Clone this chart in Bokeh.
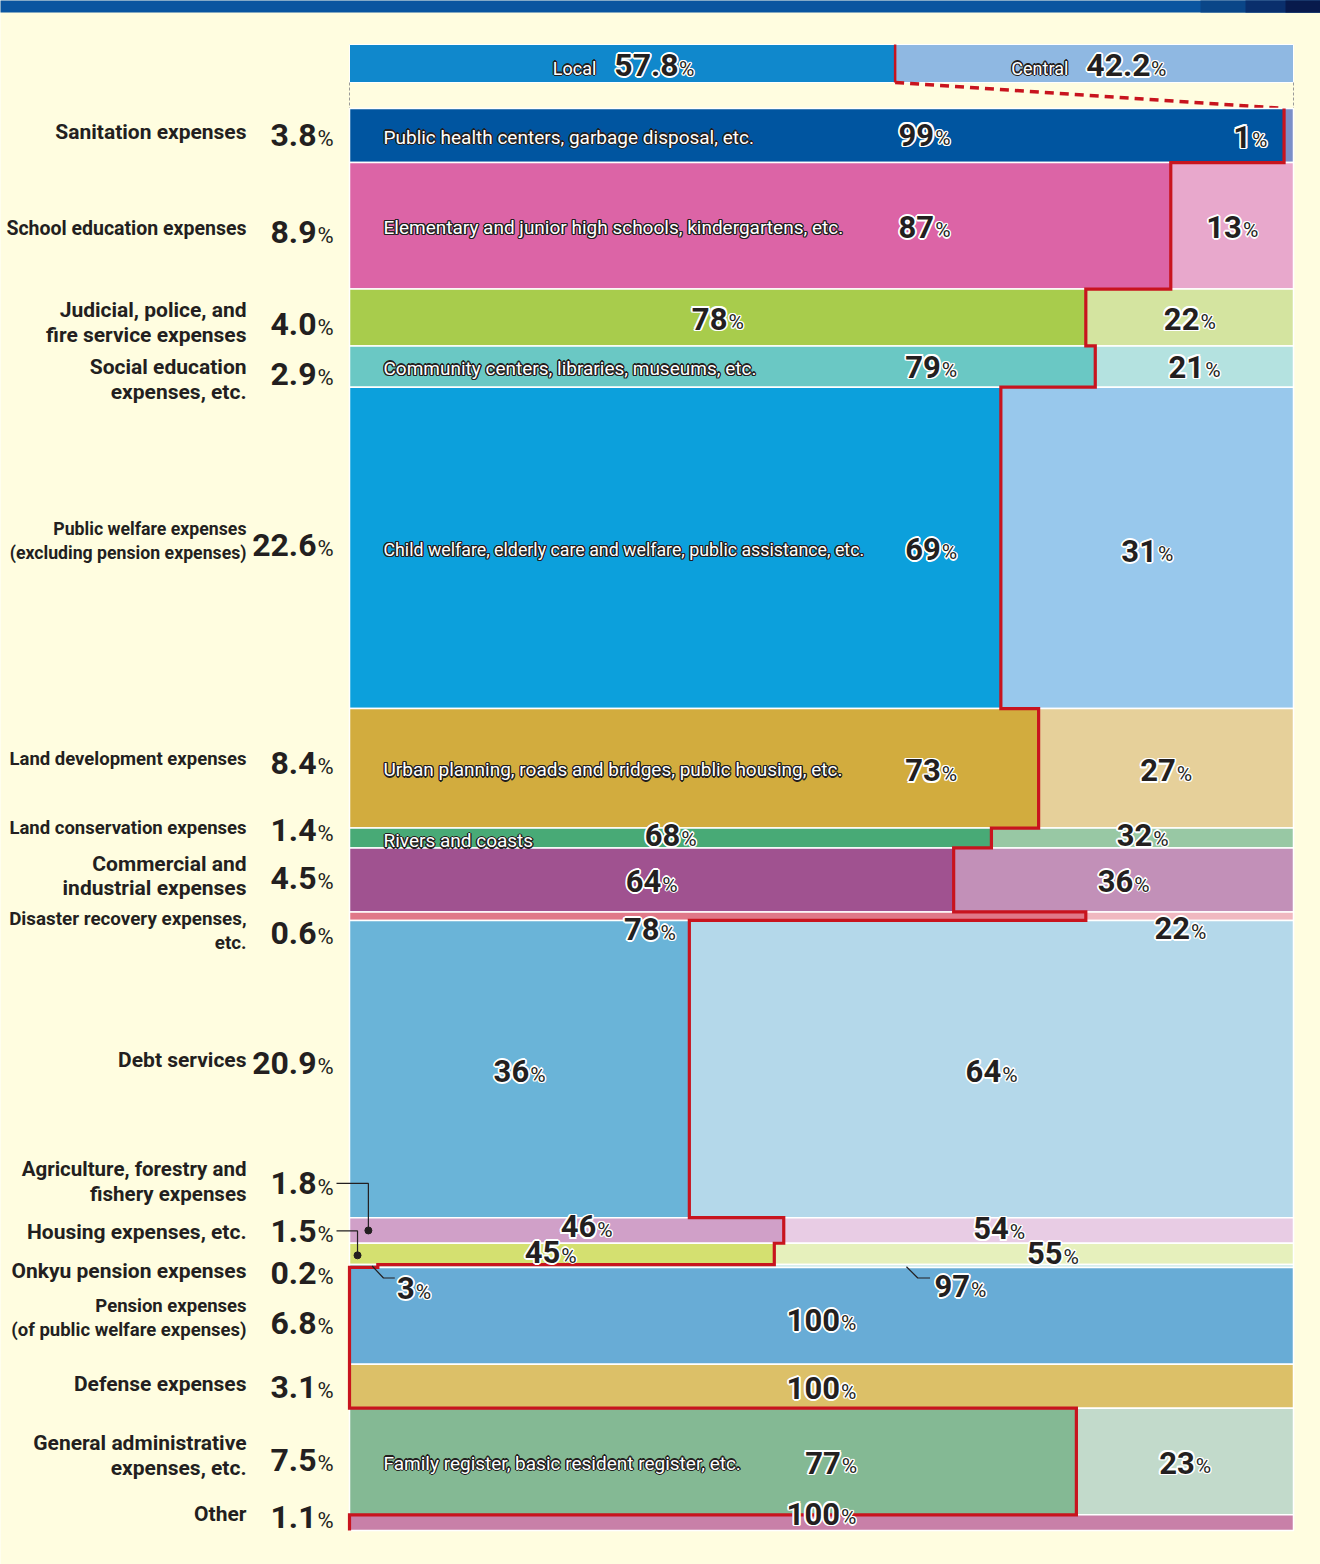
from bokeh.plotting import figure
from bokeh.models import Range1d
from bokeh.core.properties import value
from bokeh.embed import file_html
from bokeh.resources import INLINE

# ---------------- data ----------------
categories = [
    ["Sanitation expenses"],
    ["School education expenses"],
    ["Judicial, police, and", "fire service expenses"],
    ["Social education", "expenses, etc."],
    ["Public welfare expenses", "(excluding pension expenses)"],
    ["Land development expenses"],
    ["Land conservation expenses"],
    ["Commercial and", "industrial expenses"],
    ["Disaster recovery expenses,", "etc."],
    ["Debt services"],
    ["Agriculture, forestry and", "fishery expenses"],
    ["Housing expenses, etc."],
    ["Onkyu pension expenses"],
    ["Pension expenses", "(of public welfare expenses)"],
    ["Defense expenses"],
    ["General administrative", "expenses, etc."],
    ["Other"],
]
shares = [3.8, 8.9, 4.0, 2.9, 22.6, 8.4, 1.4, 4.5, 0.6, 20.9, 1.8, 1.5, 0.2, 6.8, 3.1, 7.5, 1.1]
local_pct = [99, 87, 78, 79, 69, 73, 68, 64, 78, 36, 46, 45, 3, 0, 0, 77, 0]
central_pct = [100 - v for v in local_pct]
descriptions = [
    "Public health centers, garbage disposal, etc.",
    "Elementary and junior high schools, kindergartens, etc.",
    "",
    "Community centers, libraries, museums, etc.",
    "Child welfare, elderly care and welfare, public assistance, etc.",
    "Urban planning, roads and bridges, public housing, etc.",
    "Rivers and coasts",
    "", "", "", "", "", "", "", "",
    "Family register, basic resident register, etc.",
    "",
]
total_names = ["Local", "Central"]
total_values = [57.8, 42.2]

# ---------------- styles / layout ----------------
local_colors = ["#0055a0", "#dc64a6", "#a8cc4c", "#6ac8c4", "#0ca0dc", "#d2ac3e", "#48aa76",
                "#a05290", "#e07888", "#6ab4d8", "#d0a0c8", "#d4e070", "#8ccfd2", "#68acd6",
                "#dcc068", "#84b994", "#c880a8"]
central_colors = ["#7b8fc8", "#e8a8cc", "#d4e4a0", "#b4e2e0", "#98c8ec", "#e6d09a", "#98c8a4",
                  "#c290b8", "#f0b8c0", "#b4d8ea", "#e8cce4", "#e6f0bc", "#c8e8e8", "#68acd6",
                  "#dcc068", "#c2dacb", "#c880a8"]
total_colors = ["#1088cc", "#8fb8e2"]
BG = "#fffde0"
RED = "#c8141e"
INK = "#231f20"
FONT = "Roboto"

# label layout (x in chart %, None = centre of segment; y offsets in px from row centre)
local_lbl_x = [60.9, 60.9, None, 61.6, 61.6, 61.6, None, None, 31.8, None, 25.1, 21.3, 6.8, None, None, 51, None]
local_lbl_dy = [-1, 1, 1, 0, 1, 2, -3, 1, 13, 2, -4, -2, 22, 0, 0, 1, 0]
central_lbl_x = [95.4, None, None, None, None, None, None, None, 88, None, 68.8, 74.5, 64.7, None, None, None, None]
central_lbl_dy = [1, 1, 1, 0, 3, 2, -3, 1, 12, 2, -2, -1, 20, 4, 2, 1, -9]
cat_dy = [-4, 3, 5, 13, -7, -9, -10, -4, 15, -9, -49, -22, 5, 2, -2, -6, -9]
val_dy = [-1, 6, 6, 7, -3, -5, -8, -2, 17, -6, -47, -23, 7, 7, 1, -2, -6]
cat_size = [21, 19.5, 21, 21, 17.7, 18.5, 18.5, 21, 18.8, 21, 20.5, 21, 21, 18.5, 21, 21, 21]
desc_size = [19, 19, 19, 19, 17.8, 19, 19, 19, 19, 19, 19, 19, 19, 19, 19, 19, 19]

# pixel geometry of the chart body on the page
PX_L, PX_T = 349, 108                # px of chart origin
SX, SY = 9.44, 14.22                 # px per percent
W, H = 1320, 1564

def X(px):   # page px -> data x
    return (px - PX_L) / SX

def Y(py):   # page px -> data y
    return (py - PX_T) / SY

p = figure(width=W, height=H, x_range=Range1d(X(0), X(W)), y_range=Range1d(Y(H), Y(0)),
           output_backend="svg", toolbar_location=None, x_axis_type=None, y_axis_type=None,
           min_border=0, background_fill_color=BG, border_fill_color=BG, outline_line_color=None)
p.xgrid.visible = False
p.ygrid.visible = False

# ---------------- text helpers ----------------
def ring(r):
    d = r * 0.71
    return [(r, 0), (-r, 0), (0, r), (0, -r), (d, d), (-d, d), (d, -d), (-d, -d)]

def txt(xs, ys, ts, size, color, align="left", outline=None, ow=1.6, style="bold", xo=0, yo=0):
    kw = dict(text_font=value(FONT), text_font_size=f"{size}px", text_font_style=style,
              text_align=align, text_baseline="middle")
    if outline:
        for dx, dy in ring(ow) + ring(ow * 0.5):
            p.text(x=xs, y=ys, text=ts, x_offset=xo + dx, y_offset=yo + dy, text_color=outline, **kw)
    p.text(x=xs, y=ys, text=ts, x_offset=xo, y_offset=yo, text_color=color, **kw)

def num_width(num, big):
    return sum(0.27 * big if ch == "." else 0.562 * big for ch in num)

def pct_label(xc, yc, num, big, small, color, outline=None, centered=True, ow=1.8):
    # number + smaller '%' sharing a baseline; (xc, yc) = visual centre of the group
    nw = num_width(num, big)
    pw = 0.73 * small
    shift = (nw - pw) / 2 if centered else 0
    txt([xc], [yc], [num], big, color, align="right", outline=outline, ow=ow, xo=shift)
    txt([xc], [yc], ["%"], small, color, align="left", outline=outline, ow=ow * 0.75,
        style="normal", xo=shift + 1, yo=0.36 * (big - small))

# ---------------- top banner ----------------
p.quad(left=[X(-10)], right=[X(W + 10)], top=[Y(-10)], bottom=[Y(12)], fill_color="#0a55a0", line_color=None)
p.quad(left=[X(1200)], right=[X(W + 10)], top=[Y(-10)], bottom=[Y(12)], fill_color="#0a4688", line_color=None)
p.quad(left=[X(1245)], right=[X(W + 10)], top=[Y(-10)], bottom=[Y(12)], fill_color="#0a2f6c", line_color=None)
p.quad(left=[X(1285)], right=[X(W + 10)], top=[Y(-10)], bottom=[Y(12)], fill_color="#081a4c", line_color=None)

# ---------------- total bar ----------------
tb_top, tb_bot = Y(44), Y(82)
lefts = [0, total_values[0]]
rights = [total_values[0], 100]
p.quad(left=lefts, right=rights, top=[tb_top] * 2, bottom=[tb_bot] * 2,
       fill_color=total_colors, line_color="white", line_width=1)
for i in range(2):
    c = (lefts[i] + rights[i]) / 2
    yc = (tb_top + tb_bot) / 2 + 1.5 / SY
    vtxt = f"{total_values[i]:.1f}"
    txt([c], [yc], [total_names[i]], 18, "white", align="right", outline=INK, ow=1.3,
        style="normal", xo=-26, yo=3)
    txt([c], [yc], [vtxt], 32, INK, align="left", outline="white", ow=1.8, xo=-8)
    txt([c], [yc], ["%"], 21, INK, align="left", outline="white", ow=1.3, style="normal",
        xo=-8 + num_width(vtxt, 32) + 2, yo=4)

# dashed connector box
p.segment(x0=[0, 100], y0=[tb_bot] * 2, x1=[0, 100], y1=[0, 0],
          line_color="#9a9a9a", line_width=1, line_dash="3 2")
p.segment(x0=[total_values[0]], y0=[tb_top], x1=[total_values[0]], y1=[tb_bot],
          line_color=RED, line_width=2.5)
p.segment(x0=[total_values[0]], y0=[tb_bot], x1=[local_pct[0]], y1=[0],
          line_color=RED, line_width=3.5, line_dash="9 6")

# ---------------- rows ----------------
cum = [0.0]
for s in shares:
    cum.append(round(cum[-1] + s, 4))
tops, bots = cum[:-1], cum[1:]
n = len(shares)

ql, qr, qt, qb, qc = [], [], [], [], []
for i in range(n):
    if local_pct[i] > 0:
        ql.append(0); qr.append(local_pct[i]); qt.append(tops[i]); qb.append(bots[i]); qc.append(local_colors[i])
    if central_pct[i] > 0:
        ql.append(local_pct[i]); qr.append(100); qt.append(tops[i]); qb.append(bots[i]); qc.append(central_colors[i])
p.quad(left=ql, right=qr, top=qt, bottom=qb, fill_color=qc, line_color="white", line_width=1.5)

# red stepped boundary between local and central
sx, sy = [], []
for i in range(n):
    sx += [local_pct[i], local_pct[i]]
    sy += [tops[i], bots[i]]
p.line(x=sx, y=sy, line_color=RED, line_width=3.2, line_join="miter")

# ---------------- left labels ----------------
for i in range(n):
    yc = (tops[i] + bots[i]) / 2
    lines = categories[i]
    nl = len(lines)
    y0 = yc + cat_dy[i] / SY
    for k, ln in enumerate(lines):
        yy = y0 + (k - (nl - 1) / 2) * 24.5 / SY
        txt([X(246)], [yy], [ln], cat_size[i], INK, align="right")
    pct_label(X(316), yc + val_dy[i] / SY, f"{shares[i]:.1f}", 32, 22, INK, centered=False)

# ---------------- descriptions ----------------
for i in range(n):
    if descriptions[i]:
        yc = (tops[i] + bots[i]) / 2 + (3 if shares[i] < 2 else 1.5) / SY
        txt([X(383)], [yc], [descriptions[i]], desc_size[i], "white", outline=INK, ow=1.3,
            style="normal")

# ---------------- in-bar percentages ----------------
for i in range(n):
    yc = (tops[i] + bots[i]) / 2
    if local_pct[i] > 0:
        xc = local_lbl_x[i] if local_lbl_x[i] is not None else local_pct[i] / 2
        pct_label(xc, yc + local_lbl_dy[i] / SY, str(local_pct[i]), 31, 21, INK, outline="white")
    if central_pct[i] > 0:
        xc = central_lbl_x[i] if central_lbl_x[i] is not None else (local_pct[i] + 100) / 2
        pct_label(xc, yc + central_lbl_dy[i] / SY, str(central_pct[i]), 31, 21, INK, outline="white")

# ---------------- leader lines ----------------
ia, ih, io = 10, 11, 12
ya = (tops[ia] + bots[ia]) / 2
yh = (tops[ih] + bots[ih]) / 2
yo_ = (tops[io] + bots[io]) / 2
ya_lbl = ya + val_dy[ia] / SY
yh_lbl = yh + val_dy[ih] / SY
xa, xh = 2.0, 0.85
p.line(x=[X(336), xa, xa], y=[ya_lbl, ya_lbl, ya], line_color=INK, line_width=1.2)
p.line(x=[X(336), xh, xh], y=[yh_lbl, yh_lbl, yh + 0.1], line_color=INK, line_width=1.2)
p.scatter(x=[xa, xh], y=[ya, yh + 0.1], size=7, color=INK)
yl = yo_ + 12 / SY
p.line(x=[2.4, 3.6, 4.8], y=[yo_, yl, yl], line_color=INK, line_width=1.2)
p.line(x=[59.0, 60.2, 61.5], y=[yo_ + 0.05, yl, yl], line_color=INK, line_width=1.2)

open("out.html", "w").write(file_html(p, INLINE))
